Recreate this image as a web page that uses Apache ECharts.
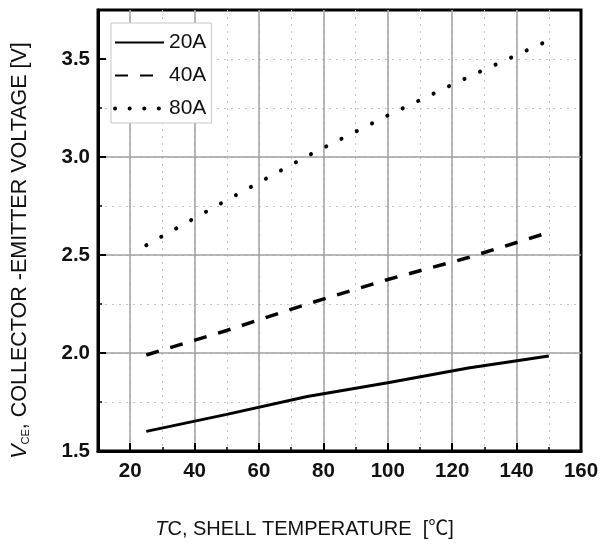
<!DOCTYPE html>
<html>
<head>
<meta charset="utf-8">
<script src="https://cdn.jsdelivr.net/npm/echarts@6/dist/echarts.min.js"></script>
<style>html,body{margin:0;padding:0;background:#fff;}#c{width:606px;height:544px;}</style>
</head>
<body>
<div id="c"></div>
<script>
var temps = [25, 50, 75, 100, 125, 150];
var v20A = [1.6, 1.687, 1.778, 1.848, 1.923, 1.985];
var v40A = [1.99, 2.115, 2.25, 2.375, 2.487, 2.615];
var v80A = [2.55, 2.78, 3.005, 3.212, 3.408, 3.595];
var seriesNames = ['20A', '40A', '80A'];
var xMajorTicks = [20, 40, 60, 80, 100, 120, 140, 160];
var yMajorTicks = [1.5, 2.0, 2.5, 3.0, 3.5];

function pairs(xs, ys) { return xs.map(function (x, i) { return [x, ys[i]]; }); }

var tickFont = {
  fontFamily: '"Liberation Sans", Arial, sans-serif',
  fontWeight: 'bold', fontSize: 20.5, color: '#111'
};
var nameFont = { fontFamily: '"Liberation Sans", Arial, "Noto Sans CJK SC", sans-serif', fontSize: 20, color: '#111' };
var yNameFont = { fontFamily: '"Liberation Sans", Arial, sans-serif', fontSize: 21.5, color: '#111' };

var chart = echarts.init(document.getElementById('c'), null, { renderer: 'canvas' });
chart.setOption({
  animation: false,
  backgroundColor: '#fff',
  grid: { left: 98, right: 25, top: 10, bottom: 93, show: true, borderColor: '#000', borderWidth: 3, backgroundColor: 'transparent' },
  legend: {
    orient: 'vertical', left: 111, top: 23,
    backgroundColor: '#fff', borderColor: '#c8c8c8', borderWidth: 1,
    padding: [9, 5, 4, 2], itemWidth: 49, itemHeight: 20, itemGap: 12, itemStyle: { opacity: 0 },
    textStyle: { fontFamily: '"Liberation Sans", Arial, sans-serif', fontSize: 21, color: '#111' },
    data: [
      { name: seriesNames[0] },
      { name: seriesNames[1] },
      { name: seriesNames[2], lineStyle: { type: [0.1, 14.5], width: 4, cap: 'round' } }
    ]
  },
  xAxis: [
    {
      type: 'value', min: 10, max: 160, interval: 10, position: 'bottom', z: 1,
      axisLine: { show: false },
      axisTick: { show: true, inside: true, length: 4, lineStyle: { color: '#000', width: 1.5 } },
      axisLabel: { show: false },
      splitLine: { show: true, showMinLine: false, showMaxLine: false, lineStyle: { type: [2, 5], color: '#c4c4c4', width: 1 } }
    },
    {
      type: 'value', min: 10, max: 160, interval: 10, position: 'bottom', z: 2,
      axisLine: { show: true, onZero: false, lineStyle: { color: '#000', width: 3 } },
      axisTick: { show: true, inside: true, length: 8, customValues: xMajorTicks, lineStyle: { color: '#000', width: 2 } },
      axisLabel: Object.assign({ customValues: xMajorTicks, margin: 10 }, tickFont),
      splitLine: { show: true, showMaxLine: false, lineStyle: { color: '#a0a0a0', width: 1.5 } },
      name: '{i|T}C, SHELL TEMPERATURE  [\u2103]', nameLocation: 'middle', nameGap: 68,
      nameTextStyle: Object.assign({ padding: [0, 70, 0, 0], rich: { i: Object.assign({}, nameFont, { fontStyle: 'italic' }) } }, nameFont)
    }
  ],
  yAxis: [
    {
      type: 'value', min: 1.5, max: 3.75, interval: 0.25, position: 'left', z: 1,
      axisLine: { show: false },
      axisTick: { show: true, inside: true, length: 4, lineStyle: { color: '#000', width: 1.5 } },
      axisLabel: { show: false },
      splitLine: { show: true, showMinLine: false, showMaxLine: false, lineStyle: { type: [2, 5], color: '#c4c4c4', width: 1 } }
    },
    {
      type: 'value', min: 1.5, max: 3.75, interval: 0.25, position: 'left', z: 2,
      axisLine: { show: true, onZero: false, lineStyle: { color: '#000', width: 3 } },
      axisTick: { show: true, inside: true, length: 8, customValues: yMajorTicks, lineStyle: { color: '#000', width: 2 } },
      axisLabel: Object.assign({ customValues: yMajorTicks, margin: 8, formatter: function (v) { return v.toFixed(1); } }, tickFont),
      splitLine: { show: true, showMinLine: false, showMaxLine: false, lineStyle: { color: '#a0a0a0', width: 1.5 } },
      name: '{i|V}{s|CE}, COLLECTOR -EMITTER VOLTAGE [V]', nameLocation: 'middle', nameGap: 67, nameRotate: 90,
      nameTextStyle: Object.assign({ padding: [0, 40, 0, 0], rich: {
        i: Object.assign({}, yNameFont, { fontStyle: 'italic' }),
        s: Object.assign({}, yNameFont, { fontSize: 11, verticalAlign: 'bottom', padding: [9, 0, 0, 0] })
      } }, yNameFont)
    }
  ],
  series: [
    { name: seriesNames[0], type: 'line', xAxisIndex: 1, yAxisIndex: 1, data: pairs(temps, v20A), symbol: 'none', z: 5,
      lineStyle: { color: '#000', width: 3, type: 'solid' } },
    { name: seriesNames[1], type: 'line', xAxisIndex: 1, yAxisIndex: 1, data: pairs(temps, v40A), symbol: 'none', z: 5,
      lineStyle: { color: '#000', width: 3.5, type: [13, 12] } },
    { name: seriesNames[2], type: 'line', xAxisIndex: 1, yAxisIndex: 1, data: pairs(temps, v80A), symbol: 'none', z: 5,
      lineStyle: { color: '#000', width: 4, type: [0.1, 17], cap: 'round' } }
  ]
});
</script>
</body>
</html>
